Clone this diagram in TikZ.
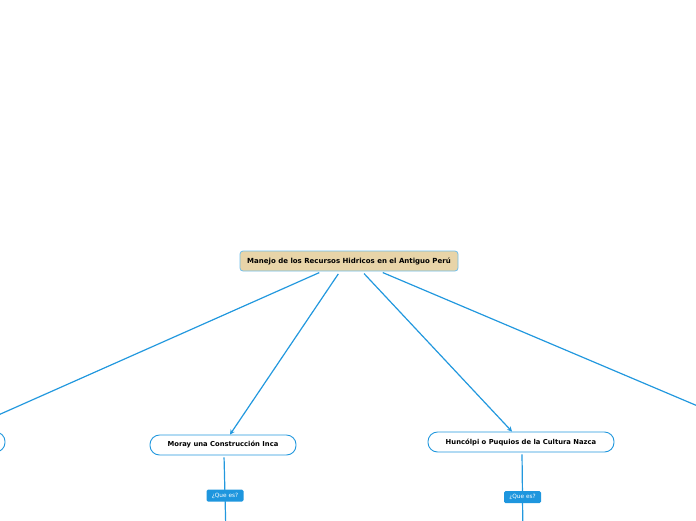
\documentclass[tikz,border=0pt]{standalone}
\usepackage{fontspec}
\setmainfont{DejaVu Sans}
\usetikzlibrary{arrows.meta}
\definecolor{lineblue}{RGB}{34,152,222}
\definecolor{rootfill}{RGB}{232,212,168}
\definecolor{rootborder}{RGB}{110,190,235}
\definecolor{tagblue}{RGB}{30,150,222}
\tikzset{
  rootbox/.style={draw=rootborder, fill=rootfill, rounded corners=3pt, line width=0.8pt,
    minimum width=218pt, minimum height=20pt, inner sep=0pt,
    font=\fontsize{7}{8}\selectfont\bfseries},
  topicbox/.style={draw=lineblue, fill=white, rounded corners=9.5pt, line width=0.9pt,
    minimum height=20pt, inner sep=0pt,
    font=\fontsize{6.8}{8}\selectfont\bfseries},
  conn/.style={draw=lineblue, line width=1.2pt, -{Stealth[length=5pt,width=5pt]}},
  vline/.style={draw=lineblue, line width=1.2pt},
  tag/.style={fill=tagblue, text=white, rounded corners=1.5pt, inner sep=0pt,
    minimum width=37pt, minimum height=12pt, font=\fontsize{5.8}{6}\selectfont}
}
\begin{document}
\begin{tikzpicture}[x=1pt,y=-1pt]
\useasboundingbox (0,0) rectangle (696,520);
\clip (0,0) rectangle (696,520);
\node[rootbox] (root) at (349,261) {Manejo de los Recursos Hidricos en el Antiguo Perú};
\node[topicbox, minimum width=146pt] (moray) at (223,445) {Moray una Construcción Inca};
\node[topicbox, minimum width=186pt] (nazca) at (521,442) {Huncólpi o Puquios de la Cultura Nazca};
\node[topicbox, minimum width=150pt] (left) at (-70,442) {};
\node[topicbox, minimum width=150pt] (right) at (800,442) {};
\coordinate (mend) at (226,536);
\coordinate (nend) at (523,542);
\draw[conn, shorten <=3pt] ([xshift=-27pt]root.south) -- ([xshift=31pt]left.north);
\draw[conn, shorten <=3pt] ([xshift=-9pt]root.south) -- ([xshift=7pt]moray.north);
\draw[conn, shorten <=3pt] ([xshift=13pt]root.south) -- ([xshift=-9pt]nazca.north);
\draw[conn, shorten <=3pt] ([xshift=31pt]root.south) -- ([xshift=-42pt]right.north);
\draw[vline, shorten <=2pt] ([xshift=1pt]moray.south) -- node[tag] (mtag) {¿Que es?} (mend);
\draw[vline, shorten <=2pt] ([xshift=1pt]nazca.south) -- node[tag] (ntag) {¿Que es?} (nend);
\end{tikzpicture}
\end{document}
